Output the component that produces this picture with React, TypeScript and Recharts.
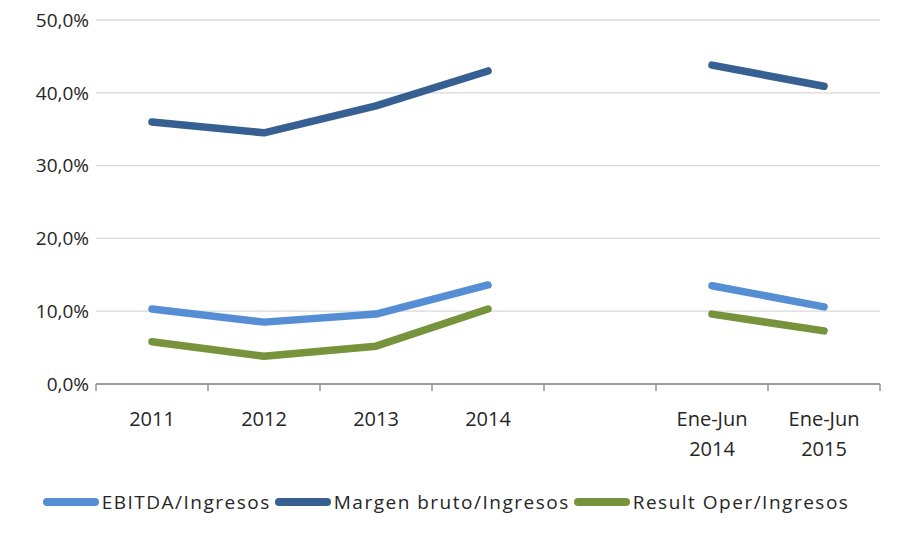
import { LineChart, Line, XAxis, YAxis, CartesianGrid, Legend } from "recharts";

const categories = ["2011", "2012", "2013", "2014", "", "Ene-Jun\n2014", "Ene-Jun\n2015"];
const ebitda = [10.3, 8.5, 9.6, 13.6, null, 13.5, 10.6];
const margenBruto = [36.0, 34.5, 38.2, 43.0, null, 43.8, 40.9];
const resultOper = [5.8, 3.8, 5.2, 10.3, null, 9.6, 7.3];
const yTicks = [0, 10, 20, 30, 40, 50];

const data = categories.map((name, i) => ({
  name,
  ebitda: ebitda[i],
  margen: margenBruto[i],
  result: resultOper[i],
}));

const series = [
  { key: "ebitda", label: "EBITDA/Ingresos", color: "#558ED5" },
  { key: "margen", label: "Margen bruto/Ingresos", color: "#376092" },
  { key: "result", label: "Result Oper/Ingresos", color: "#77933C" },
];

const W = 914;
const H = 560;
const margin = { top: 20, right: 34, bottom: 0, left: 16 };
const yAxisW = 80;
const band = (W - margin.left - yAxisW - margin.right) / categories.length;
const font = "'Open Sans', sans-serif";
const textColor = "#262626";
const axisColor = "#868686";

const XTick = ({ x, y, payload, index }: any) => {
  const lines = String(payload.value).split("\n");
  return (
    <g>
      <line x1={x - band / 2} x2={x - band / 2} y1={y} y2={y + 7} stroke={axisColor} strokeWidth={1.3} />
      {index === categories.length - 1 && (
        <line x1={x + band / 2} x2={x + band / 2} y1={y} y2={y + 7} stroke={axisColor} strokeWidth={1.3} />
      )}
      {lines.map((l, i) => (
        <text key={i} x={x} y={y + 42 + i * 30} textAnchor="middle" fontSize={20} fill={textColor} fontFamily={font}>
          {l}
        </text>
      ))}
    </g>
  );
};

const LegendContent = () => (
  <div style={{ display: "flex", justifyContent: "center", alignItems: "center", paddingTop: 15, fontFamily: font, fontSize: 19, letterSpacing: 1.5, color: textColor }}>
    {series.map((s) => (
      <div key={s.key} style={{ display: "flex", alignItems: "center", marginRight: 4 }}>
        <div style={{ width: 56, height: 8, borderRadius: 4, background: s.color, marginRight: 3 }} />
        <span>{s.label}</span>
      </div>
    ))}
  </div>
);

export default function App() {
  return (
    <div style={{ margin: -8, width: W, height: H, background: "#fff" }}>
      <LineChart width={W} height={H} data={data} margin={margin}>
        <CartesianGrid vertical={false} stroke="#D9D9D9" strokeWidth={1.3} />
        <XAxis
          dataKey="name"
          height={90}
          stroke={axisColor}
          strokeWidth={1.3}
          tickLine={false}
          tickSize={0}
          tickMargin={0}
          interval={0}
          padding={{ left: band / 2, right: band / 2 }}
          tick={<XTick />}
        />
        <YAxis
          width={yAxisW}
          domain={[0, 50]}
          ticks={yTicks}
          axisLine={false}
          tickLine={false}
          tickSize={0}
          tickMargin={7}
          tickFormatter={(v: number) => `${v.toFixed(1).replace(".", ",")}%`}
          tick={{ fontSize: 19, fill: textColor, fontFamily: font }}
        />
        <Legend verticalAlign="bottom" height={86} content={<LegendContent />} />
        {series.map((s) => (
          <Line
            key={s.key}
            dataKey={s.key}
            name={s.label}
            stroke={s.color}
            strokeWidth={7.5}
            strokeLinecap="round"
            strokeLinejoin="round"
            dot={false}
            activeDot={false}
            connectNulls={false}
            isAnimationActive={false}
          />
        ))}
      </LineChart>
    </div>
  );
}
